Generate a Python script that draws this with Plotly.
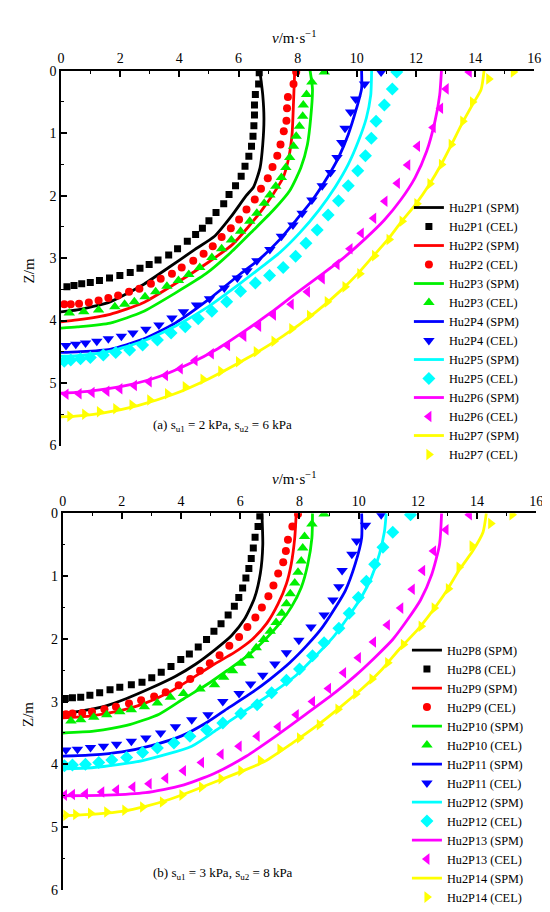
import plotly.graph_objects as go

# Series names and styles
names_a = ["Hu2P1", "Hu2P2", "Hu2P3", "Hu2P4", "Hu2P5", "Hu2P6", "Hu2P7"]
names_b = ["Hu2P8", "Hu2P9", "Hu2P10", "Hu2P11", "Hu2P12", "Hu2P13", "Hu2P14"]
colors = ["#000000", "#ff0000", "#00f000", "#0000ff", "#00ffff", "#ff00ff", "#ffff00"]
symbols = ["square", "circle", "triangle-up", "triangle-down", "diamond", "triangle-left", "triangle-right"]
msizes = [7, 8, 10, 10, 10, 10, 10]

# (a) su1 = 2 kPa, su2 = 6 kPa : SPM lines
spm_a_v = [
    [6.72, 6.82, 6.86, 6.82, 6.73, 6.51, 6.26, 5.74, 5.19, 4.53, 3.64, 2.76, 1.66, 0.55, 0.0],
    [7.90, 7.88, 7.86, 7.81, 7.70, 7.51, 7.18, 6.79, 6.35, 5.80, 4.97, 3.86, 2.76, 1.66, 0.55, 0.0],
    [8.42, 8.50, 8.44, 8.33, 8.11, 7.73, 7.18, 6.51, 5.74, 4.90, 3.86, 2.76, 1.66, 0.55, 0.0],
    [10.16, 10.16, 9.99, 9.71, 9.38, 9.00, 8.50, 7.95, 7.40, 6.75, 6.07, 4.97, 3.86, 2.76, 1.66, 0.55, 0.0],
    [10.50, 10.49, 10.47, 10.32, 10.05, 9.71, 9.27, 8.72, 8.06, 7.40, 6.84, 6.07, 4.97, 3.86, 2.76, 1.66, 0.55, 0.0],
    [12.86, 12.80, 12.64, 12.36, 11.97, 11.48, 10.93, 10.26, 9.49, 8.70, 7.90, 7.10, 6.20, 5.30, 4.30, 3.30, 2.30, 1.30, 0.50, 0.0],
    [14.30, 14.20, 13.90, 13.55, 13.20, 12.85, 12.45, 12.00, 11.50, 11.05, 10.55, 10.05, 9.50, 8.60, 7.50, 6.30, 5.00, 3.80, 2.60, 1.40, 0.50, 0.0],
]
spm_a_z = [
    [0.0, 0.39, 0.76, 1.18, 1.55, 1.86, 2.00, 2.34, 2.65, 2.86, 3.15, 3.43, 3.70, 3.83, 3.86],
    [0.0, 0.25, 0.50, 1.02, 1.39, 1.71, 1.97, 2.23, 2.49, 2.78, 3.07, 3.41, 3.72, 3.90, 3.99, 4.02],
    [0.0, 0.29, 0.76, 1.18, 1.55, 1.92, 2.23, 2.55, 2.91, 3.25, 3.56, 3.86, 4.04, 4.10, 4.12],
    [0.0, 0.29, 0.60, 1.02, 1.39, 1.71, 2.07, 2.39, 2.70, 3.00, 3.25, 3.67, 4.04, 4.30, 4.46, 4.50, 4.51],
    [0.0, 0.20, 0.39, 0.76, 1.13, 1.50, 1.86, 2.23, 2.60, 2.91, 3.12, 3.40, 3.78, 4.09, 4.33, 4.49, 4.56, 4.57],
    [0.0, 0.39, 0.81, 1.29, 1.71, 2.07, 2.39, 2.70, 3.02, 3.30, 3.58, 3.87, 4.17, 4.45, 4.70, 4.90, 5.03, 5.11, 5.15, 5.16],
    [0.0, 0.30, 0.55, 0.85, 1.18, 1.50, 1.82, 2.13, 2.42, 2.70, 2.97, 3.24, 3.50, 3.87, 4.25, 4.60, 4.93, 5.18, 5.36, 5.48, 5.53, 5.54],
]

# (a) CEL markers
cel_a_v = [
    [6.70, 6.68, 6.57, 6.54, 6.54, 6.52, 6.49, 6.44, 6.35, 6.22, 6.09, 5.90, 5.68, 5.50, 5.24, 5.00,
     4.78, 4.55, 4.27, 3.94, 3.64, 3.28, 2.98, 2.67, 2.34, 1.99, 1.64, 1.30, 0.99, 0.70, 0.44, 0.20],
    [7.95, 7.86, 7.67, 7.64, 7.62, 7.53, 7.42, 7.31, 7.15, 6.99, 6.76, 6.55, 6.27, 6.02, 5.74, 5.43,
     5.13, 4.82, 4.47, 4.08, 3.75, 3.37, 3.04, 2.65, 2.30, 1.93, 1.60, 1.27, 0.94, 0.61, 0.33, 0.11],
    [8.90, 8.48, 8.30, 8.19, 8.17, 8.06, 7.95, 7.86, 7.73, 7.60, 7.45, 7.26, 7.06, 6.87, 6.62, 6.38,
     6.07, 5.76, 5.43, 5.10, 4.69, 4.32, 3.97, 3.58, 3.20, 2.84, 2.48, 2.15, 1.82, 1.27, 0.77, 0.28],
    [10.82, 10.26, 9.96, 9.79, 9.60, 9.49, 9.33, 9.11, 8.83, 8.48, 8.15, 7.84, 7.45, 7.06, 6.62, 6.29,
     5.96, 5.52, 5.02, 4.58, 4.14, 3.75, 3.31, 2.87, 2.43, 2.04, 1.60, 1.21, 0.83, 0.50, 0.17],
    [11.35, 11.20, 10.93, 10.65, 10.49, 10.29, 10.03, 9.71, 9.38, 9.03, 8.66, 8.28, 7.93, 7.51, 7.05, 6.57,
     6.07, 5.60, 5.10, 4.64, 4.20, 3.72, 3.26, 2.76, 2.32, 1.85, 1.43, 0.99, 0.66, 0.33, 0.11],
    [13.80, 13.02, 12.83, 12.58, 12.05, 11.72, 11.37, 10.95, 10.57, 10.15, 9.77, 9.33, 8.83, 8.33, 7.78,
     7.18, 6.68, 6.18, 5.63, 5.08, 4.53, 4.03, 3.53, 2.98, 2.48, 1.99, 1.55, 1.05, 0.61, 0.17],
    [15.29, 14.46, 13.91, 13.58, 13.19, 12.86, 12.47, 12.03, 11.53, 11.09, 10.60, 10.10, 9.60, 9.00, 8.40,
     7.80, 7.20, 6.60, 6.00, 5.40, 4.80, 4.20, 3.60, 3.00, 2.40, 1.85, 1.30, 0.80, 0.30],
]
cel_a_z = [
    [0.03, 0.21, 0.38, 0.55, 0.71, 0.88, 1.05, 1.21, 1.37, 1.53, 1.69, 1.84, 1.98, 2.13, 2.27, 2.40,
     2.52, 2.62, 2.73, 2.85, 2.95, 3.03, 3.10, 3.16, 3.23, 3.28, 3.32, 3.36, 3.39, 3.41, 3.44, 3.46],
    [0.02, 0.21, 0.42, 0.60, 0.80, 0.97, 1.18, 1.36, 1.54, 1.72, 1.89, 2.06, 2.22, 2.38, 2.52, 2.66,
     2.81, 2.93, 3.04, 3.15, 3.25, 3.33, 3.41, 3.49, 3.54, 3.60, 3.64, 3.68, 3.71, 3.73, 3.74, 3.74],
    [0.02, 0.18, 0.38, 0.55, 0.73, 0.89, 1.05, 1.21, 1.39, 1.55, 1.71, 1.85, 1.99, 2.12, 2.28, 2.41,
     2.57, 2.71, 2.85, 2.99, 3.15, 3.26, 3.36, 3.45, 3.54, 3.62, 3.70, 3.74, 3.78, 3.83, 3.86, 3.88],
    [0.02, 0.21, 0.45, 0.66, 0.92, 1.15, 1.39, 1.63, 1.84, 2.07, 2.28, 2.47, 2.65, 2.86, 3.04, 3.20,
     3.32, 3.48, 3.65, 3.75, 3.86, 3.96, 4.07, 4.14, 4.20, 4.25, 4.29, 4.33, 4.36, 4.38, 4.40],
    [0.02, 0.29, 0.55, 0.81, 1.08, 1.36, 1.60, 1.84, 2.08, 2.31, 2.55, 2.76, 2.97, 3.15, 3.28, 3.40,
     3.53, 3.70, 3.85, 3.97, 4.10, 4.20, 4.31, 4.39, 4.47, 4.51, 4.55, 4.59, 4.61, 4.63, 4.65],
    [0.02, 0.29, 0.60, 0.91, 1.21, 1.51, 1.80, 2.09, 2.36, 2.60, 2.85, 3.10, 3.33, 3.54, 3.74,
     3.91, 4.09, 4.25, 4.40, 4.53, 4.64, 4.77, 4.88, 4.98, 5.04, 5.09, 5.13, 5.15, 5.17, 5.18],
    [0.02, 0.13, 0.50, 0.81, 1.18, 1.50, 1.81, 2.13, 2.41, 2.70, 2.96, 3.25, 3.46, 3.70, 3.92,
     4.13, 4.33, 4.50, 4.66, 4.81, 4.94, 5.06, 5.17, 5.27, 5.35, 5.41, 5.46, 5.50, 5.53],
]

# (b) su1 = 3 kPa, su2 = 8 kPa : SPM lines
spm_b_v = [
    [6.73, 6.76, 6.68, 6.48, 6.15, 5.70, 5.15, 4.50, 3.80, 3.00, 2.16, 1.38, 0.50, 0.0],
    [7.89, 7.84, 7.72, 7.56, 7.28, 6.90, 6.40, 5.79, 5.13, 4.40, 3.60, 2.70, 1.80, 0.90, 0.0],
    [8.44, 8.42, 8.28, 8.06, 7.73, 7.34, 6.84, 6.24, 5.57, 4.90, 4.10, 3.26, 2.16, 1.05, 0.0],
    [10.10, 10.10, 9.88, 9.55, 9.16, 8.72, 8.22, 7.67, 7.01, 6.35, 5.60, 4.91, 4.00, 3.00, 2.00, 1.00, 0.0],
    [10.93, 10.87, 10.70, 10.43, 10.10, 9.66, 9.16, 8.55, 7.89, 7.12, 6.12, 5.20, 4.36, 2.70, 1.05, 0.0],
    [12.80, 12.73, 12.47, 12.09, 11.64, 11.15, 10.54, 9.88, 9.22, 8.22, 7.20, 6.20, 5.10, 4.00, 2.80, 1.50, 0.0],
    [14.31, 14.20, 13.85, 13.40, 12.95, 12.50, 12.00, 11.40, 10.80, 10.10, 9.40, 8.60, 7.70, 6.80, 6.00,
     5.20, 4.40, 3.60, 2.80, 2.00, 1.20, 0.50, 0.0],
]
spm_b_z = [
    [0.0, 0.50, 0.95, 1.35, 1.68, 1.95, 2.17, 2.40, 2.60, 2.78, 2.95, 3.08, 3.16, 3.19],
    [0.0, 0.39, 0.81, 1.12, 1.44, 1.75, 2.01, 2.22, 2.40, 2.62, 2.85, 3.04, 3.16, 3.23, 3.26],
    [0.0, 0.39, 0.81, 1.18, 1.49, 1.75, 2.01, 2.27, 2.50, 2.72, 2.95, 3.20, 3.38, 3.47, 3.50],
    [0.0, 0.39, 0.81, 1.23, 1.54, 1.85, 2.12, 2.38, 2.64, 2.87, 3.10, 3.32, 3.55, 3.70, 3.80, 3.85, 3.87],
    [0.0, 0.29, 0.65, 1.02, 1.33, 1.64, 1.96, 2.27, 2.58, 2.85, 3.16, 3.45, 3.71, 3.94, 4.05, 4.07],
    [0.0, 0.50, 0.97, 1.38, 1.70, 2.01, 2.30, 2.59, 2.85, 3.20, 3.55, 3.87, 4.15, 4.34, 4.45, 4.49, 4.50],
    [0.0, 0.30, 0.60, 0.90, 1.25, 1.55, 1.85, 2.15, 2.48, 2.80, 3.08, 3.38, 3.68, 3.96, 4.12,
     4.27, 4.42, 4.56, 4.67, 4.75, 4.79, 4.81, 4.82],
]

# (b) CEL markers
cel_b_v = [
    [6.66, 6.60, 6.50, 6.44, 6.37, 6.29, 6.19, 6.08, 5.95, 5.80, 5.59, 5.35, 5.11, 4.86, 4.58,
     4.28, 3.99, 3.66, 3.33, 3.01, 2.68, 2.32, 1.93, 1.60, 1.25, 0.92, 0.61, 0.33, 0.09],
    [7.95, 7.76, 7.61, 7.54, 7.45, 7.28, 7.12, 6.95, 6.73, 6.51, 6.24, 5.96, 5.63, 5.30, 4.97,
     4.64, 4.31, 3.92, 3.48, 3.09, 2.65, 2.24, 1.80, 1.41, 0.99, 0.66, 0.33, 0.11],
    [8.83, 8.42, 8.17, 8.11, 8.06, 7.95, 7.84, 7.69, 7.56, 7.40, 7.21, 7.01, 6.79, 6.54, 6.29,
     6.02, 5.74, 5.44, 5.13, 4.64, 4.08, 3.64, 3.20, 2.76, 2.32, 1.93, 1.49, 1.05, 0.61, 0.28],
    [10.76, 10.23, 9.93, 9.77, 9.44, 9.33, 9.13, 8.83, 8.39, 7.98, 7.56, 7.17, 6.76, 6.35,
     5.96, 5.41, 4.91, 4.36, 3.81, 3.31, 2.81, 2.32, 1.82, 1.38, 0.94, 0.50, 0.11],
    [11.75, 11.15, 10.82, 10.54, 10.26, 9.99, 9.68, 9.33, 8.83, 8.44, 8.00, 7.56, 7.06, 6.57,
     6.02, 5.41, 4.86, 4.30, 3.76, 3.20, 2.70, 2.16, 1.66, 1.22, 0.77, 0.33, 0.06],
    [13.74, 12.95, 12.53, 12.16, 11.81, 11.42, 10.97, 10.50, 9.99, 9.49, 8.98, 8.44, 7.89, 7.28,
     6.57, 5.96, 5.35, 4.69, 4.08, 3.48, 2.92, 2.37, 1.82, 1.32, 0.77, 0.33, 0.06],
    [15.18, 14.46, 13.83, 13.39, 13.03, 12.55, 12.11, 11.51, 10.98, 10.45, 9.90, 9.30, 8.67, 8.00,
     7.34, 6.68, 6.02, 5.35, 4.69, 4.03, 3.37, 2.70, 2.10, 1.49, 0.94, 0.44, 0.11],
]
cel_b_z = [
    [0.04, 0.21, 0.38, 0.55, 0.72, 0.88, 1.03, 1.19, 1.34, 1.48, 1.62, 1.76, 1.88, 2.01, 2.13,
     2.24, 2.33, 2.44, 2.53, 2.62, 2.69, 2.73, 2.77, 2.81, 2.86, 2.90, 2.93, 2.94, 2.95],
    [0.01, 0.21, 0.42, 0.60, 0.78, 0.96, 1.15, 1.32, 1.50, 1.66, 1.81, 1.97, 2.11, 2.26, 2.39,
     2.51, 2.64, 2.74, 2.85, 2.92, 2.98, 3.03, 3.08, 3.12, 3.16, 3.18, 3.19, 3.20],
    [0.01, 0.17, 0.37, 0.55, 0.76, 0.94, 1.11, 1.28, 1.44, 1.59, 1.74, 1.88, 2.01, 2.14, 2.27,
     2.39, 2.51, 2.61, 2.73, 2.80, 2.87, 2.93, 3.02, 3.08, 3.13, 3.16, 3.21, 3.25, 3.29, 3.31],
    [0.02, 0.19, 0.44, 0.65, 0.91, 1.17, 1.38, 1.62, 1.81, 2.02, 2.22, 2.40, 2.58, 2.72,
     2.87, 3.00, 3.21, 3.29, 3.40, 3.50, 3.58, 3.63, 3.68, 3.71, 3.73, 3.76, 3.77],
    [0.02, 0.30, 0.54, 0.81, 1.08, 1.34, 1.59, 1.83, 2.06, 2.27, 2.48, 2.66, 2.86, 3.05,
     3.19, 3.34, 3.45, 3.55, 3.66, 3.74, 3.81, 3.89, 3.93, 3.97, 4.00, 4.01, 4.02],
    [0.02, 0.26, 0.60, 0.91, 1.21, 1.51, 1.78, 2.05, 2.30, 2.54, 2.79, 3.00, 3.21, 3.40,
     3.55, 3.71, 3.84, 3.97, 4.10, 4.22, 4.31, 4.36, 4.41, 4.44, 4.47, 4.48, 4.49],
    [0.02, 0.16, 0.52, 0.86, 1.20, 1.51, 1.80, 2.09, 2.38, 2.64, 2.88, 3.12, 3.37, 3.58,
     3.76, 3.94, 4.10, 4.23, 4.36, 4.49, 4.60, 4.68, 4.73, 4.76, 4.78, 4.80, 4.81],
]

FONT = "Liberation Serif"
W, H = 550, 912

fig = go.Figure()


def add_panel(names, spm_v, spm_z, cel_v, cel_z, xa, ya, leg):
    for i, name in enumerate(names):
        fig.add_trace(go.Scatter(
            x=spm_v[i], y=spm_z[i], mode="lines", name=name + " (SPM)",
            line=dict(color=colors[i], width=2.8, shape="spline", smoothing=0.6),
            xaxis=xa, yaxis=ya, legend=leg))
        fig.add_trace(go.Scatter(
            x=cel_v[i], y=cel_z[i], mode="markers", name=name + " (CEL)",
            marker=dict(color=colors[i], symbol=symbols[i], size=msizes[i], line=dict(width=0)),
            xaxis=xa, yaxis=ya, legend=leg))


add_panel(names_a, spm_a_v, spm_a_z, cel_a_v, cel_a_z, "x", "y", "legend")
add_panel(names_b, spm_b_v, spm_b_z, cel_b_v, cel_b_z, "x2", "y2", "legend2")

xcommon = dict(range=[0, 16], dtick=2, side="top", showline=True, linecolor="black", linewidth=1.5,
               ticks="inside", ticklen=6, tickwidth=1.5, tickcolor="black",
               minor=dict(dtick=1, ticks="inside", ticklen=3, tickcolor="black", tickwidth=1.2),
               showgrid=False, zeroline=False, tickfont=dict(family=FONT, size=14, color="black"))
ycommon = dict(range=[6, 0], dtick=1, showline=True, linecolor="black", linewidth=1.5,
               ticks="inside", ticklen=6, tickwidth=1.5, tickcolor="black",
               minor=dict(dtick=0.5, ticks="inside", ticklen=3, tickcolor="black", tickwidth=1.2),
               showgrid=False, zeroline=False, tickfont=dict(family=FONT, size=14, color="black"))

legcommon = dict(bgcolor="rgba(0,0,0,0)", font=dict(family=FONT, size=12.3, color="black"),
                 tracegroupgap=0, xanchor="left", yanchor="top", itemwidth=30)

fig.update_layout(
    width=W, height=H, margin=dict(l=0, r=0, t=0, b=0),
    paper_bgcolor="white", plot_bgcolor="white",
    xaxis=dict(xcommon, domain=[50 / W, 533 / W], anchor="y"),
    yaxis=dict(ycommon, domain=[1 - 437.7 / H, 1 - 56.7 / H], anchor="x"),
    xaxis2=dict(xcommon, domain=[51.7 / W, 535 / W], anchor="y2"),
    yaxis2=dict(ycommon, domain=[1 - 889.5 / H, 1 - 506.7 / H], anchor="x2"),
    legend=dict(legcommon, x=405 / W, y=1 - 181 / H),
    legend2=dict(legcommon, x=403 / W, y=1 - 631 / H),
)

# axis titles and panel captions
ann = []
for ytop, yzm, ycap, cap in [(22, 260, 417, "(a) s<sub>u1</sub> = 2 kPa, s<sub>u2</sub> = 6 kPa"),
                             (471, 711, 873, "(b) s<sub>u1</sub> = 3 kPa, s<sub>u2</sub> = 8 kPa")]:
    ann.append(dict(x=288 / W, y=1 - ytop / H, xref="paper", yref="paper", showarrow=False,
                    xanchor="center", yanchor="middle",
                    text="<i>v</i>/m·s<sup>−1</sup>", font=dict(family=FONT, size=15, color="black")))
    ann.append(dict(x=17 / W, y=1 - yzm / H, xref="paper", yref="paper", showarrow=False,
                    xanchor="center", yanchor="middle",
                    text="Z/m", textangle=-90, font=dict(family=FONT, size=15, color="black")))
    ann.append(dict(x=215 / W, y=1 - ycap / H, xref="paper", yref="paper", showarrow=False,
                    xanchor="center", yanchor="middle",
                    text=cap, font=dict(family=FONT, size=13, color="black")))
fig.update_layout(annotations=ann)

fig.write_html("out.html")
